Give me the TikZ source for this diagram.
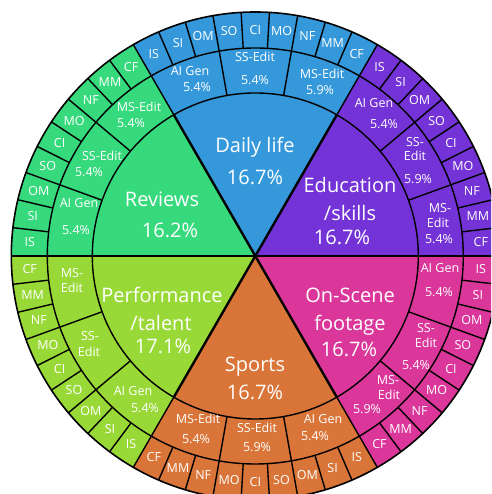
\documentclass[tikz,border=0pt]{standalone}
\usepackage{fontspec}
\setmainfont{Open Sans}
\definecolor{cDaily}{HTML}{3498DB}
\definecolor{cEdu}{HTML}{7433D6}
\definecolor{cOn}{HTML}{DB379B}
\definecolor{cSport}{HTML}{D97538}
\definecolor{cPerf}{HTML}{99D937}
\definecolor{cRev}{HTML}{37D97D}
\newcommand{\lbl}[5]{\node[#1] (#2) at (#3,{494-#4}) {#5};}
\begin{document}
\begin{tikzpicture}[x=1pt,y=1pt,
  small/.style={text=white, font=\fontsize{12.5}{14}\selectfont, inner sep=0pt, text height=1.5ex, text depth=0pt},
  big/.style={text=white, font=\fontsize{20}{24}\selectfont, inner sep=0pt, text height=1.5ex, text depth=0pt},
  ring/.style={draw=black, line width=1.4pt},
  spoke/.style={draw=black, line width=2.4pt}]
\useasboundingbox (0,0) rectangle (491,494);
\clip (0,0) rectangle (491,494);
\coordinate (C) at (255.3,238);
\begin{scope}[shift={(C)}]
\foreach \a/\c/\n in {60/cDaily/d, 0/cEdu/e, -60/cOn/o, -120/cSport/s, 180/cPerf/p, 120/cRev/r}{
  \fill[\c] (0,0) -- (\a:244) arc[start angle=\a, end angle=\a+60, radius=244] -- cycle;
  \foreach \k in {1,...,8} \draw[ring] (\a+\k*6.6667:208) -- (\a+\k*6.6667:244);
  \foreach \k in {1,2} \draw[ring] (\a+\k*20:163) -- (\a+\k*20:208);
  \foreach \t [count=\i] in {IS,SI,OM,SO,CI,MO,NF,MM,CF}
    \node[small] (\n\i) at ({\a+60-(\i-0.5)*6.6667}:226) {\t};
}
\foreach \a in {0,60,...,300} {
  \draw[ring] (\a:163) -- (\a:244);
  \draw[spoke] (0,0) -- (\a:163);
}
\draw[ring] (0,0) circle[radius=163] (0,0) circle[radius=208];
\draw[black, line width=1.6pt] (0,0) circle[radius=244];
\end{scope}
% category labels
\lbl{big}{dl1}{255}{148}{Daily life}
\lbl{big}{dl2}{255}{180}{16.7\%}
\lbl{big}{ed1}{350}{188}{Education}
\lbl{big}{ed2}{350}{216}{/skills}
\lbl{big}{ed3}{342}{240}{16.7\%}
\lbl{big}{on1}{350}{298}{On-Scene}
\lbl{big}{on2}{350}{326}{footage}
\lbl{big}{on3}{349}{352}{16.7\%}
\lbl{big}{sp1}{255}{367}{Sports}
\lbl{big}{sp2}{255}{395}{16.7\%}
\lbl{big}{pf1}{162}{298}{Performance}
\lbl{big}{pf2}{161}{326}{/talent}
\lbl{big}{pf3}{163}{349}{17.1\%}
\lbl{big}{rv1}{162}{202}{Reviews}
\lbl{big}{rv2}{170}{233}{16.2\%}
% middle ring labels
\lbl{small}{mda1}{190}{71}{AI Gen}
\lbl{small}{mda2}{197}{87}{5.4\%}
\lbl{small}{mds1}{255}{57}{SS-Edit}
\lbl{small}{mds2}{255}{80}{5.4\%}
\lbl{small}{mdm1}{322}{74}{MS-Edit}
\lbl{small}{mdm2}{320}{90}{5.9\%}
\lbl{small}{mea1}{374}{103}{AI Gen}
\lbl{small}{mea2}{384}{124}{5.4\%}
\lbl{small}{mes1}{415}{142}{SS-}
\lbl{small}{mes2}{415}{156}{Edit}
\lbl{small}{mes3}{418}{179}{5.9\%}
\lbl{small}{mem1}{440}{208}{MS-}
\lbl{small}{mem2}{438}{223}{Edit}
\lbl{small}{mem3}{439}{239}{5.4\%}
\lbl{small}{moa1}{440}{268}{AI Gen}
\lbl{small}{moa2}{439}{292}{5.4\%}
\lbl{small}{mos1}{426}{328}{SS-}
\lbl{small}{mos2}{426}{343}{Edit}
\lbl{small}{mos3}{416}{365}{5.4\%}
\lbl{small}{mom1}{388}{380}{MS-}
\lbl{small}{mom2}{389}{395}{Edit}
\lbl{small}{mom3}{367}{409}{5.9\%}
\lbl{small}{msa1}{323}{419}{AI Gen}
\lbl{small}{msa2}{315}{436}{5.4\%}
\lbl{small}{mss1}{257}{428}{SS-Edit}
\lbl{small}{mss2}{257}{447}{5.9\%}
\lbl{small}{msm1}{198}{419}{MS-Edit}
\lbl{small}{msm2}{196}{439}{5.4\%}
\lbl{small}{mpm1}{72}{273}{MS-}
\lbl{small}{mpm2}{72}{288}{Edit}
\lbl{small}{mps1}{90}{336}{SS-}
\lbl{small}{mps2}{89}{352}{Edit}
\lbl{small}{mpa1}{133}{391}{AI Gen}
\lbl{small}{mpa2}{145}{408}{5.4\%}
\lbl{small}{mrm1}{139}{107}{MS-Edit}
\lbl{small}{mrm2}{131}{123}{5.4\%}
\lbl{small}{mrs1}{102}{156}{SS-Edit}
\lbl{small}{mrs2}{89}{172}{5.4\%}
\lbl{small}{mra1}{79}{203}{AI Gen}
\lbl{small}{mra2}{76}{230}{5.4\%}
\end{tikzpicture}
\end{document}
